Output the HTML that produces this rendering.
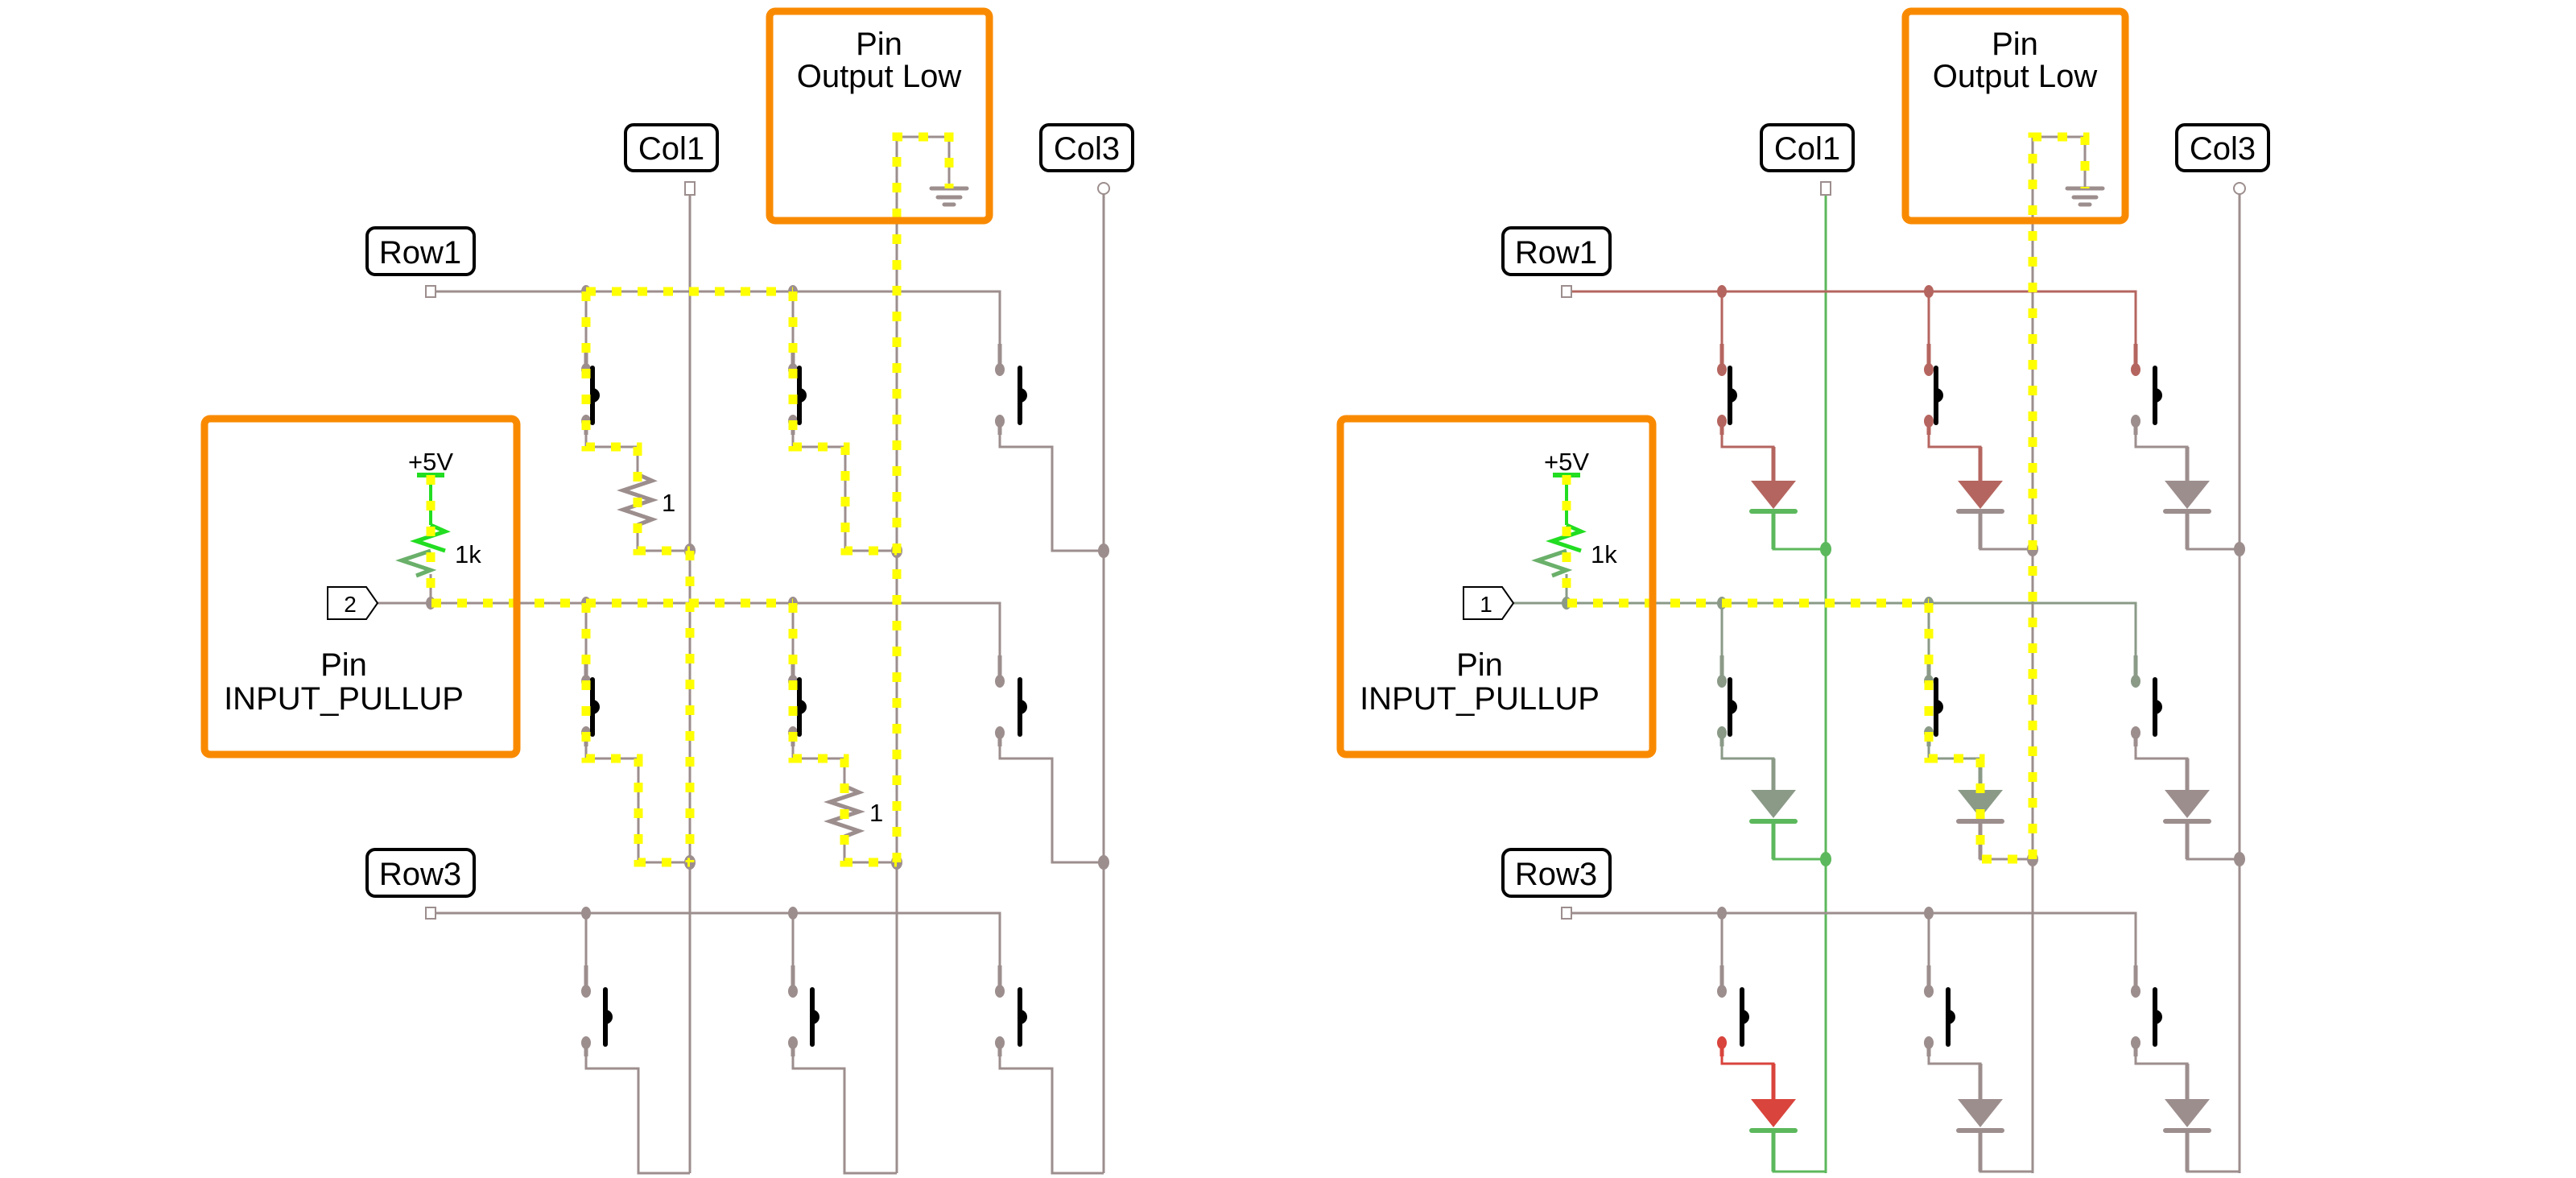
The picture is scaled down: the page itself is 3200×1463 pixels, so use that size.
<!DOCTYPE html>
<html><head><meta charset="utf-8"><style>
html,body{margin:0;padding:0;background:#fff}
svg{display:block}
text{font-family:"Liberation Sans",sans-serif;fill:#000}
</style></head><body>
<svg width="3200" height="1463" viewBox="0 0 3200 1463" xmlns="http://www.w3.org/2000/svg">
<defs>
<g id="bar"><path d="M0,-2V66" stroke="#000" stroke-width="6" stroke-linecap="round"/><path d="M0,23A9,9 0 0 1 0,41Z" fill="#000"/></g>
</defs>

<!-- ================= LEFT CIRCUIT ================= -->
<g id="left">
<g fill="none" stroke="#9d8e8e" stroke-width="3">
<path d="M857,242V1457"/>
<path d="M1114,1457V170H1179V234"/>
<path d="M1371,241V1457"/>
<path d="M541,362H1242V427"/>
<path d="M469,749H1242V814"/>
<path d="M541,1134H1242V1199"/>
<path d="M728,362V427M985,362V427"/>
<path d="M728,538V555H792V589l18,8l-36,12l36,12l-36,12l36,12l-18,7V684H857" />
<path d="M985,538V555H1050V684H1114"/>
<path d="M1242,538V555H1307V684H1371"/>
<path d="M728,749V814M985,749V814"/>
<path d="M728,925V942H793V1071H857"/>
<path d="M985,925V942H1049V976l18,8l-36,12l36,12l-36,12l36,12l-18,7V1071H1114"/>
<path d="M1242,925V942H1307V1071H1371"/>
<path d="M728,1134V1199M985,1134V1199"/>
<path d="M728,1310V1327H793V1457H857"/>
<path d="M985,1310V1327H1049V1457H1114"/>
<path d="M1242,1310V1327H1307V1457H1371"/>
</g>
<g stroke="#9d8e8e" stroke-width="5">
<path d="M728,427V459M985,427V459M1242,427V459M728,523V540M985,523V540M1242,523V540"/>
<path d="M728,814V846M985,814V846M1242,814V846M728,910V927M985,910V927M1242,910V927"/>
<path d="M728,1199V1231M985,1199V1231M1242,1199V1231M728,1295V1312M985,1295V1312M1242,1295V1312"/>
</g>
<path d="M792,589l18,8l-36,12l36,12l-36,12l36,12l-18,7" fill="none" stroke="#9d8e8e" stroke-width="5"/>
<path d="M1049,976l18,8l-36,12l36,12l-36,12l36,12l-18,7" fill="none" stroke="#9d8e8e" stroke-width="5"/>
<g stroke="#9d8e8e" stroke-width="5" stroke-linecap="round"><path d="M1157,234H1201M1165,245H1193M1173,254H1185"/></g>
<g fill="#fff" stroke="#9d8e8e" stroke-width="2">
<rect x="529" y="355" width="12" height="14"/><rect x="529" y="1127" width="12" height="14"/>
<rect x="851" y="226" width="12" height="16"/><circle cx="1371" cy="234" r="7"/>
</g>
<g fill="#9d8e8e">
<ellipse cx="728" cy="362" rx="6" ry="8"/><ellipse cx="985" cy="362" rx="6" ry="8"/>
<ellipse cx="728" cy="749" rx="6" ry="8"/><ellipse cx="985" cy="749" rx="6" ry="8"/><ellipse cx="535" cy="749" rx="6" ry="8"/>
<ellipse cx="728" cy="1134" rx="6" ry="8"/><ellipse cx="985" cy="1134" rx="6" ry="8"/>
<ellipse cx="857" cy="684" rx="7" ry="9"/><ellipse cx="1114" cy="684" rx="7" ry="9"/><ellipse cx="1371" cy="684" rx="7" ry="9"/>
<ellipse cx="857" cy="1071" rx="7" ry="9"/><ellipse cx="1114" cy="1071" rx="7" ry="9"/><ellipse cx="1371" cy="1071" rx="7" ry="9"/>
<ellipse cx="728" cy="459" rx="6" ry="8"/><ellipse cx="728" cy="523" rx="6" ry="8"/>
<ellipse cx="985" cy="459" rx="6" ry="8"/><ellipse cx="985" cy="523" rx="6" ry="8"/>
<ellipse cx="1242" cy="459" rx="6" ry="8"/><ellipse cx="1242" cy="523" rx="6" ry="8"/>
<ellipse cx="728" cy="846" rx="6" ry="8"/><ellipse cx="728" cy="910" rx="6" ry="8"/>
<ellipse cx="985" cy="846" rx="6" ry="8"/><ellipse cx="985" cy="910" rx="6" ry="8"/>
<ellipse cx="1242" cy="846" rx="6" ry="8"/><ellipse cx="1242" cy="910" rx="6" ry="8"/>
<ellipse cx="728" cy="1231" rx="6" ry="8"/><ellipse cx="728" cy="1295" rx="6" ry="8"/>
<ellipse cx="985" cy="1231" rx="6" ry="8"/><ellipse cx="985" cy="1295" rx="6" ry="8"/>
<ellipse cx="1242" cy="1231" rx="6" ry="8"/><ellipse cx="1242" cy="1295" rx="6" ry="8"/>
</g>
<use href="#bar" transform="translate(736,459)"/><use href="#bar" transform="translate(993,459)"/><use href="#bar" transform="translate(1267,459)"/>
<use href="#bar" transform="translate(736,846)"/><use href="#bar" transform="translate(993,846)"/><use href="#bar" transform="translate(1267,846)"/>
<use href="#bar" transform="translate(752,1231)"/><use href="#bar" transform="translate(1009,1231)"/><use href="#bar" transform="translate(1267,1231)"/>
<path d="M535,590V652" stroke="#22dd22" stroke-width="4"/>
<path d="M535,652l18,8l-36,12l36,12" fill="none" stroke="#22dd22" stroke-width="5"/>
<path d="M535,684l-36,12l36,12l-18,7" fill="none" stroke="#6ab06a" stroke-width="5"/>
<path d="M535,713V749" stroke="#9d8e8e" stroke-width="3"/>
<path d="M518,590H552" stroke="#22dd22" stroke-width="6"/>
<g fill="none" stroke="#ffff00" stroke-width="11" stroke-dasharray="12 20">
<path d="M728,362H985"/>
<path d="M728,362V555H792V684H857"/>
<path d="M985,362V555H1050V684H1114"/>
<path d="M857,684V1071"/>
<path d="M535,590V749H985"/>
<path d="M728,749V942H793V1071H857"/>
<path d="M985,749V942H1049V1071H1114"/>
<path d="M1114,1071V170H1179V234"/>
</g>
<rect x="956" y="14" width="273" height="260" rx="7" fill="none" stroke="#f98a00" stroke-width="9"/>
<rect x="254" y="520" width="388" height="417" rx="7" fill="none" stroke="#f98a00" stroke-width="9"/>
<g fill="#fff" stroke="#000" stroke-width="4">
<rect x="777" y="155" width="114" height="57" rx="10"/>
<rect x="1293" y="155" width="114" height="57" rx="10"/>
<rect x="456" y="283" width="133" height="58" rx="10"/>
<rect x="456" y="1055" width="133" height="58" rx="10"/>
</g>
<path d="M407,729H455L469,749L455,769H407Z" fill="#fff" stroke="#000" stroke-width="2"/>
<g font-size="40" text-anchor="middle">
<text x="834" y="198">Col1</text><text x="1350" y="198">Col3</text>
<text x="522" y="327">Row1</text><text x="522" y="1099">Row3</text>
<text x="1092" y="68">Pin</text><text x="1092" y="108">Output Low</text>
<text x="427" y="839">Pin</text><text x="427" y="881">INPUT_PULLUP</text>
</g>
<g font-size="31">
<text x="435" y="760" text-anchor="middle" font-size="28">2</text>
<text x="535" y="584" text-anchor="middle">+5V</text>
<text x="565" y="699">1k</text>
<text x="822" y="635">1</text>
<text x="1080" y="1020">1</text>
</g>
</g>

<!-- ================= RIGHT CIRCUIT ================= -->
<g transform="translate(1411,0)">
<g fill="none" stroke-width="3">
<path d="M857,242V1457" stroke="#5cb85c"/>
<path d="M1114,1457V170H1179V234" stroke="#9d8e8e"/>
<path d="M1371,241V1457" stroke="#9d8e8e"/>
<path d="M541,362H1242V427" stroke="#b5655f"/>
<path d="M469,749H1242V814" stroke="#8a9a87"/>
<path d="M541,1134H1242V1199" stroke="#9d8e8e"/>
<path d="M728,362V427M985,362V427" stroke="#b5655f"/>
<path d="M728,749V814M985,749V814" stroke="#8a9a87"/>
<path d="M728,1134V1199M985,1134V1199" stroke="#9d8e8e"/>
<path d="M728,538V555H792V597" stroke="#b5655f"/>
<path d="M985,538V555H1049V597" stroke="#b5655f"/>
<path d="M1242,538V555H1306V597" stroke="#9d8e8e"/>
<path d="M792,635V682H857" stroke="#5cb85c"/>
<path d="M1049,635V682H1114" stroke="#9d8e8e"/>
<path d="M1306,635V682H1371" stroke="#9d8e8e"/>
<path d="M728,925V942H792V981" stroke="#8a9a87"/>
<path d="M985,925V942H1049V981" stroke="#8a9a87"/>
<path d="M1242,925V942H1306V981" stroke="#9d8e8e"/>
<path d="M792,1020V1067H857" stroke="#5cb85c"/>
<path d="M1049,1020V1067H1114" stroke="#9d8e8e"/>
<path d="M1306,1020V1067H1371" stroke="#9d8e8e"/>
<path d="M728,1310V1321H792V1365" stroke="#d9443c"/>
<path d="M985,1310V1321H1049V1365" stroke="#9d8e8e"/>
<path d="M1242,1310V1321H1306V1365" stroke="#9d8e8e"/>
<path d="M792,1404V1455H857" stroke="#5cb85c"/>
<path d="M1049,1404V1455H1114" stroke="#9d8e8e"/>
<path d="M1306,1404V1455H1371" stroke="#9d8e8e"/>
</g>
<g stroke-width="5">
<path d="M792,555V597M1049,555V597" stroke="#b5655f"/><path d="M1306,555V597" stroke="#9d8e8e"/>
<path d="M792,635V682" stroke="#5cb85c"/><path d="M1049,635V682M1306,635V682" stroke="#9d8e8e"/>
<path d="M792,942V981M1049,942V981" stroke="#8a9a87"/><path d="M1306,942V981" stroke="#9d8e8e"/>
<path d="M792,1020V1067" stroke="#5cb85c"/><path d="M1049,1020V1067M1306,1020V1067" stroke="#9d8e8e"/>
<path d="M792,1321V1365" stroke="#d9443c"/><path d="M1049,1321V1365M1306,1321V1365" stroke="#9d8e8e"/>
<path d="M792,1404V1455" stroke="#5cb85c"/><path d="M1049,1404V1455M1306,1404V1455" stroke="#9d8e8e"/>
<path d="M728,427V459M985,427V459M1242,427V459M728,523V540M985,523V540" stroke="#b5655f"/>
<path d="M1242,523V540" stroke="#9d8e8e"/>
<path d="M728,814V846M985,814V846M1242,814V846M728,910V927M985,910V927" stroke="#8a9a87"/>
<path d="M1242,910V927" stroke="#9d8e8e"/>
<path d="M728,1199V1231M985,1199V1231M1242,1199V1231M985,1295V1312M1242,1295V1312" stroke="#9d8e8e"/>
<path d="M728,1295V1312" stroke="#d9443c"/>
</g>
<path d="M764,597H820L792,632Z" fill="#b5655f"/><path d="M1021,597H1077L1049,632Z" fill="#b5655f"/><path d="M1278,597H1334L1306,632Z" fill="#9d8e8e"/>
<path d="M764,981H820L792,1016Z" fill="#8a9a87"/><path d="M1021,981H1077L1049,1016Z" fill="#8a9a87"/><path d="M1278,981H1334L1306,1016Z" fill="#9d8e8e"/>
<path d="M764,1365H820L792,1400Z" fill="#d9443c"/><path d="M1021,1365H1077L1049,1400Z" fill="#9d8e8e"/><path d="M1278,1365H1334L1306,1400Z" fill="#9d8e8e"/>
<g stroke-width="6" stroke-linecap="round">
<path d="M765,635H819" stroke="#5cb85c"/><path d="M1022,635H1076M1279,635H1333" stroke="#9d8e8e"/>
<path d="M765,1020H819" stroke="#5cb85c"/><path d="M1022,1020H1076M1279,1020H1333" stroke="#9d8e8e"/>
<path d="M765,1404H819" stroke="#5cb85c"/><path d="M1022,1404H1076M1279,1404H1333" stroke="#9d8e8e"/>
</g>
<g stroke="#9d8e8e" stroke-width="5" stroke-linecap="round"><path d="M1157,234H1201M1165,245H1193M1173,254H1185"/></g>
<g fill="#fff" stroke="#9d8e8e" stroke-width="2">
<rect x="529" y="355" width="12" height="14"/><rect x="529" y="1127" width="12" height="14"/>
<rect x="851" y="226" width="12" height="16"/><circle cx="1371" cy="234" r="7"/>
</g>
<g fill="#b5655f">
<ellipse cx="728" cy="362" rx="6" ry="8"/><ellipse cx="985" cy="362" rx="6" ry="8"/>
<ellipse cx="728" cy="459" rx="6" ry="8"/><ellipse cx="728" cy="523" rx="6" ry="8"/>
<ellipse cx="985" cy="459" rx="6" ry="8"/><ellipse cx="985" cy="523" rx="6" ry="8"/>
<ellipse cx="1242" cy="459" rx="6" ry="8"/>
</g>
<g fill="#8a9a87">
<ellipse cx="728" cy="749" rx="6" ry="8"/><ellipse cx="985" cy="749" rx="6" ry="8"/><ellipse cx="535" cy="749" rx="6" ry="8"/>
<ellipse cx="728" cy="846" rx="6" ry="8"/><ellipse cx="728" cy="910" rx="6" ry="8"/>
<ellipse cx="985" cy="846" rx="6" ry="8"/><ellipse cx="985" cy="910" rx="6" ry="8"/>
<ellipse cx="1242" cy="846" rx="6" ry="8"/>
</g>
<g fill="#9d8e8e">
<ellipse cx="1242" cy="523" rx="6" ry="8"/><ellipse cx="1242" cy="910" rx="6" ry="8"/>
<ellipse cx="728" cy="1134" rx="6" ry="8"/><ellipse cx="985" cy="1134" rx="6" ry="8"/>
<ellipse cx="728" cy="1231" rx="6" ry="8"/>
<ellipse cx="985" cy="1231" rx="6" ry="8"/><ellipse cx="985" cy="1295" rx="6" ry="8"/>
<ellipse cx="1242" cy="1231" rx="6" ry="8"/><ellipse cx="1242" cy="1295" rx="6" ry="8"/>
<ellipse cx="1114" cy="682" rx="7" ry="9"/><ellipse cx="1371" cy="682" rx="7" ry="9"/>
<ellipse cx="1114" cy="1067" rx="7" ry="9"/><ellipse cx="1371" cy="1067" rx="7" ry="9"/>
</g>
<ellipse cx="728" cy="1295" rx="6" ry="8" fill="#d9443c"/>
<g fill="#5cb85c"><ellipse cx="857" cy="682" rx="7" ry="9"/><ellipse cx="857" cy="1067" rx="7" ry="9"/></g>
<use href="#bar" transform="translate(738,459)"/><use href="#bar" transform="translate(994,459)"/><use href="#bar" transform="translate(1266,459)"/>
<use href="#bar" transform="translate(738,846)"/><use href="#bar" transform="translate(994,846)"/><use href="#bar" transform="translate(1266,846)"/>
<use href="#bar" transform="translate(753,1231)"/><use href="#bar" transform="translate(1009,1231)"/><use href="#bar" transform="translate(1266,1231)"/>
<path d="M535,590V652" stroke="#22dd22" stroke-width="4"/>
<path d="M535,652l18,8l-36,12l36,12" fill="none" stroke="#22dd22" stroke-width="5"/>
<path d="M535,684l-36,12l36,12l-18,7" fill="none" stroke="#6ab06a" stroke-width="5"/>
<path d="M535,713V749" stroke="#8a9a87" stroke-width="3"/>
<path d="M518,590H552" stroke="#22dd22" stroke-width="6"/>
<g fill="none" stroke="#ffff00" stroke-width="11" stroke-dasharray="12 20">
<path d="M535,590V749H985"/>
<path d="M985,749V942H1049V1067H1114"/>
<path d="M1114,1067V170H1179V234"/>
</g>
<rect x="956" y="14" width="273" height="260" rx="7" fill="none" stroke="#f98a00" stroke-width="9"/>
<rect x="254" y="520" width="388" height="417" rx="7" fill="none" stroke="#f98a00" stroke-width="9"/>
<g fill="#fff" stroke="#000" stroke-width="4">
<rect x="777" y="155" width="114" height="57" rx="10"/>
<rect x="1293" y="155" width="114" height="57" rx="10"/>
<rect x="456" y="283" width="133" height="58" rx="10"/>
<rect x="456" y="1055" width="133" height="58" rx="10"/>
</g>
<path d="M407,729H455L469,749L455,769H407Z" fill="#fff" stroke="#000" stroke-width="2"/>
<g font-size="40" text-anchor="middle">
<text x="834" y="198">Col1</text><text x="1350" y="198">Col3</text>
<text x="522" y="327">Row1</text><text x="522" y="1099">Row3</text>
<text x="1092" y="68">Pin</text><text x="1092" y="108">Output Low</text>
<text x="427" y="839">Pin</text><text x="427" y="881">INPUT_PULLUP</text>
</g>
<g font-size="31">
<text x="435" y="760" text-anchor="middle" font-size="28">1</text>
<text x="535" y="584" text-anchor="middle">+5V</text>
<text x="565" y="699">1k</text>
</g>
</g>
</svg>
</body></html>
